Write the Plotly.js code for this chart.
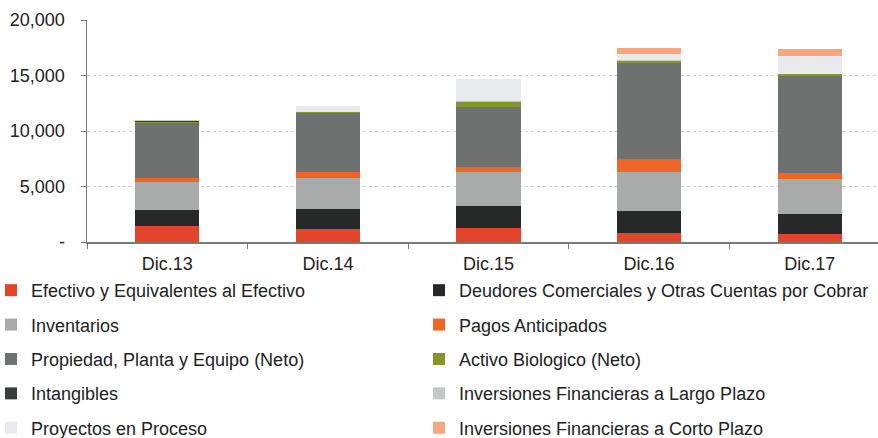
<!DOCTYPE html>
<html>
<head>
<meta charset="utf-8">
<script src="https://cdn.plot.ly/plotly-3.0.1.min.js"></script>
<style>html,body{margin:0;padding:0;background:#fff;}#chart{width:878px;height:438px;}</style>
</head>
<body>
<div id="chart"></div>
<script>
const categories = ["Dic.13", "Dic.14", "Dic.15", "Dic.16", "Dic.17"];

const efectivo     = [1400, 1150, 1250,  800,  750];
const deudores     = [1450, 1800, 1950, 1950, 1800];
const inventarios  = [2550, 2850, 3120, 3600, 3100];
const pagos        = [ 400,  530,  460, 1100,  600];
const propiedad    = [4950, 5260, 5400, 8700, 8700];
const activoBio    = [ 100,   80,  400,  160,  150];
const intangibles  = [  50,   30,   50,   30,    0];
const invLargo     = [  50,    0,  100,   50,    0];
const proyectos    = [  50,  550, 1950,  550, 1650];
const invCorto     = [   0,    0,    0,  550,  600];

const seriesNames = [
  "Efectivo y Equivalentes al Efectivo",
  "Deudores Comerciales y Otras Cuentas por Cobrar",
  "Inventarios",
  "Pagos Anticipados",
  "Propiedad, Planta y Equipo (Neto)",
  "Activo Biologico (Neto)",
  "Intangibles",
  "Inversiones Financieras a Largo Plazo",
  "Proyectos en Proceso",
  "Inversiones Financieras a Corto Plazo"
];
const seriesValues = [efectivo, deudores, inventarios, pagos, propiedad, activoBio, intangibles, invLargo, proyectos, invCorto];
const seriesColors = ["#e4432c", "#262927", "#a8abaa", "#ef6526", "#6d716f", "#86952c", "#3a3c3b", "#c6c8c7", "#e9eaee", "#f5a77f"];

const yTickVals = [0, 5000, 10000, 15000, 20000];
const yTickText = ["-", "5,000", "10,000", "15,000", "20,000"];

const traces = seriesNames.map((name, i) => ({
  type: "bar",
  name: name,
  x: categories,
  y: seriesValues[i],
  marker: { color: seriesColors[i], line: { width: 0 } },
  legend: (i % 2 === 0) ? "legend" : "legend2",
  legendgroup: "g" + i,
  hoverinfo: "x+y+name"
}));

const font = { family: "Liberation Sans, Arial, sans-serif", size: 18, color: "#222222" };
const legendCommon = {
  orientation: "v",
  traceorder: "grouped",
  tracegroupgap: 8,
  font: font,
  bgcolor: "rgba(0,0,0,0)",
  borderwidth: 0,
  xanchor: "left",
  yanchor: "top",
  y: -0.135
};

const layout = {
  width: 878,
  height: 438,
  margin: { l: 87, r: 0, t: 20, b: 196, autoexpand: false },
  paper_bgcolor: "#ffffff",
  plot_bgcolor: "#ffffff",
  font: font,
  barmode: "stack",
  bargap: 0.6,
  showlegend: true,
  xaxis: {
    type: "category",
    range: [-0.5, 4.425],
    showline: true,
    linecolor: "#7a7a7a",
    linewidth: 1.5,
    ticks: "outside",
    tickson: "boundaries",
    ticklen: 5,
    tickcolor: "#7a7a7a",
    ticklabelstandoff: 5,
    showgrid: false,
    zeroline: false,
    tickfont: font,
    fixedrange: true
  },
  yaxis: {
    range: [0, 20000],
    tickvals: yTickVals,
    ticktext: yTickText,
    showline: true,
    linecolor: "#7a7a7a",
    linewidth: 1.5,
    ticks: "outside",
    ticklen: 5,
    tickcolor: "#7a7a7a",
    ticklabelstandoff: 12,
    showgrid: true,
    gridcolor: "#d2d2d2",
    griddash: "dot",
    gridwidth: 1,
    zeroline: false,
    tickfont: font,
    fixedrange: true
  },
  legend: Object.assign({}, legendCommon, { x: -0.1214 }),
  legend2: Object.assign({}, legendCommon, { x: 0.4197 })
};

Plotly.newPlot("chart", traces, layout, { displayModeBar: false, staticPlot: true });
</script>
</body>
</html>
